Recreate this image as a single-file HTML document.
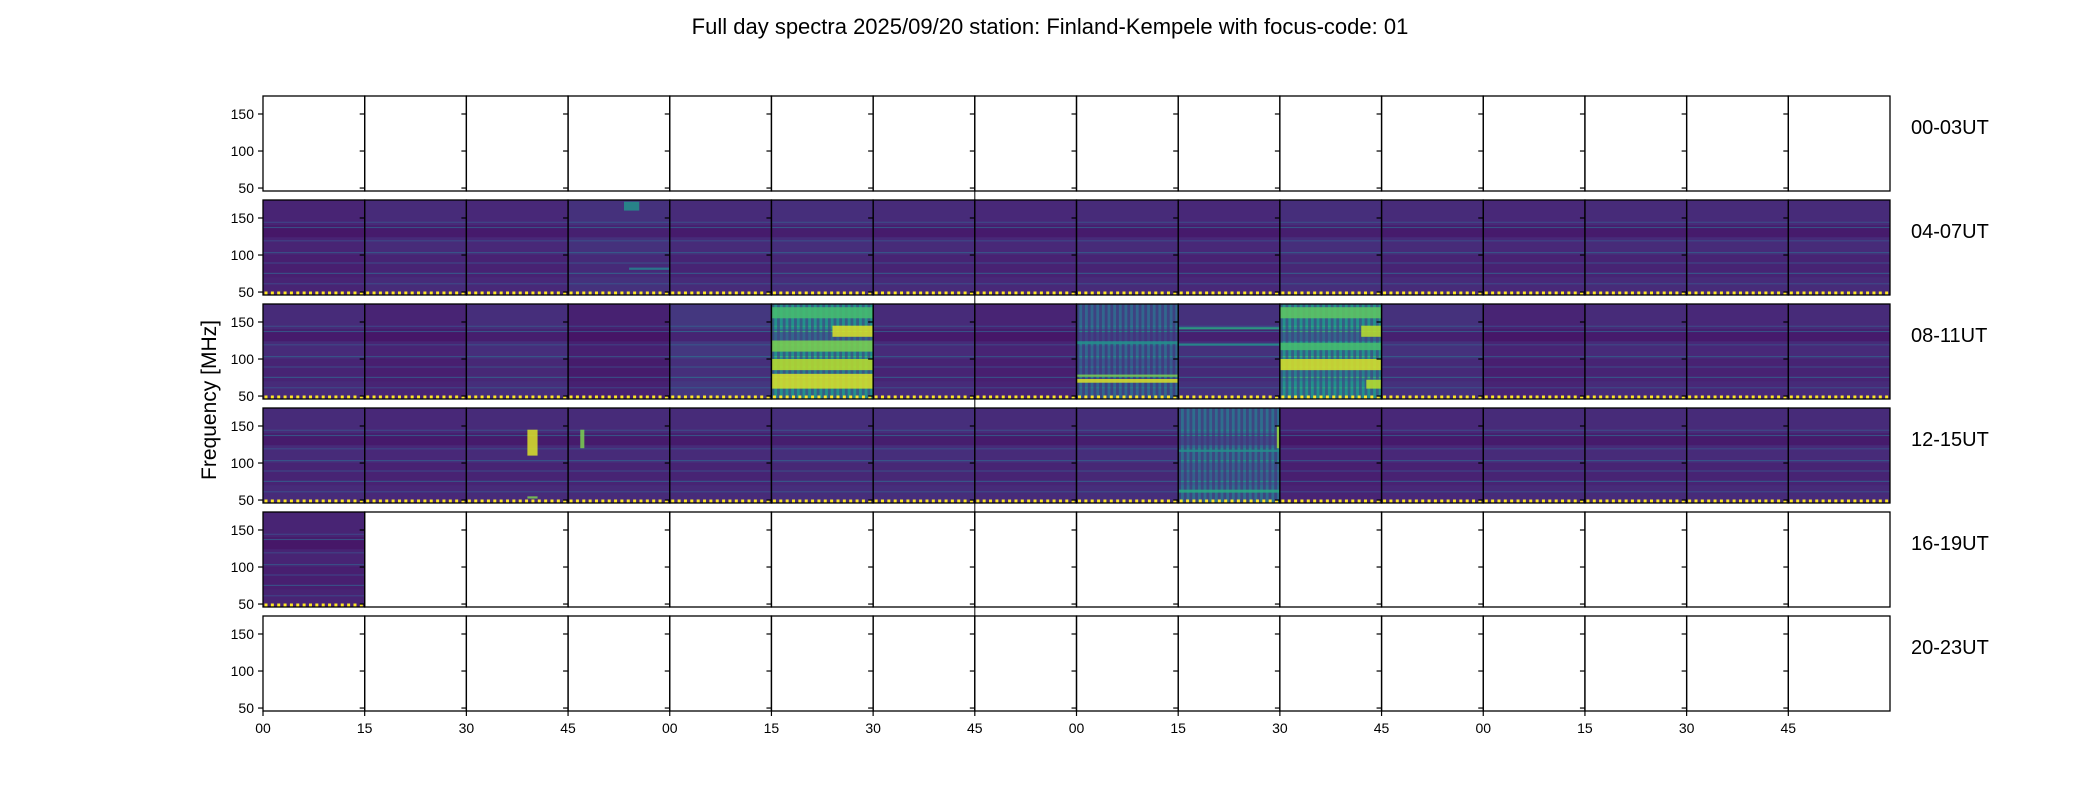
<!DOCTYPE html>
<html><head><meta charset="utf-8"><style>
html,body{margin:0;padding:0;background:#fff;}
svg{display:block;font-family:"Liberation Sans","DejaVu Sans",sans-serif;}
</style></head><body>
<svg id="chart" width="2100" height="800" viewBox="0 0 2100 800">
<text x="1050" y="34" font-size="22" text-anchor="middle" fill="#000">Full day spectra 2025/09/20 station: Finland-Kempele with focus-code: 01</text>
<text transform="translate(216,400) rotate(-90)" font-size="21" text-anchor="middle" fill="#000">Frequency [MHz]</text>
<g id="panels"></g>
</svg>
<script>
const rowLabels = ["00-03UT","04-07UT","08-11UT","12-15UT","16-19UT","20-23UT"];
const xTickLabels = ["00","15","30","45","00","15","30","45","00","15","30","45","00","15","30","45"];
const yTickValues = [50,100,150];
// mean viridis level of each panel (null = no data)
const row0 = [null,null,null,null,null,null,null,null,null,null,null,null,null,null,null,null];
const row1 = [0.1,0.12,0.11,0.14,0.12,0.13,0.12,0.11,0.12,0.11,0.13,0.12,0.11,0.12,0.12,0.12];
const row2 = [0.12,0.1,0.13,0.09,0.16,0.5,0.12,0.1,0.33,0.14,0.5,0.14,0.1,0.12,0.11,0.12];
const row3 = [0.12,0.11,0.12,0.12,0.12,0.13,0.13,0.12,0.13,0.36,0.1,0.11,0.12,0.12,0.12,0.12];
const row4 = [0.1,null,null,null,null,null,null,null,null,null,null,null,null,null,null,null];
const row5 = [null,null,null,null,null,null,null,null,null,null,null,null,null,null,null,null];
const levels = [row0,row1,row2,row3,row4,row5];
// bright features: [row, panel, fLow, fHigh, level, startFraction, endFraction]
const bands = [
 [2,5,60,80,0.95,0,1],[2,5,85,100,0.9,0,1],[2,5,110,125,0.8,0,1],[2,5,130,145,0.95,0.6,1],[2,5,155,170,0.7,0,1],
 [2,10,85,100,0.95,0,1],[2,10,60,72,0.9,0.85,1],[2,10,130,145,0.9,0.8,1],[2,10,155,170,0.75,0,1],[2,10,112,122,0.7,0,1],
 [2,8,68,73,0.95,0,1],[2,8,76,79,0.8,0,1],[2,8,120,124,0.5,0,1],
 [2,9,140,143,0.6,0,1],[2,9,118,121,0.5,0,1],
 [1,3,160,172,0.5,0.55,0.7],[1,3,80,83,0.45,0.6,1],
 [3,2,110,145,0.95,0.6,0.7],[3,2,52,55,0.8,0.6,0.7],[3,3,120,145,0.8,0.12,0.16],
 [3,9,60,64,0.6,0,1],[3,9,115,118,0.5,0,1],[3,9,120,150,0.85,0.97,1]
];
// recurring spectral lines (MHz) seen in data panels
const lines = [145,138,120,104,90,76,62];

const X0=263,X1=1890,NP=16,ROWTOP=96,ROWSTEP=104,PH=95;
const PW=(X1-X0)/NP;
const FMIN=46,FMAX=174.3;
function xPanel(i){return X0+i*PW;}
function yFreq(r,f){return ROWTOP+r*ROWSTEP+PH*(FMAX-f)/(FMAX-FMIN);}
const VIR=[[68,1,84],[72,40,120],[62,74,137],[49,104,142],[38,130,142],[31,158,137],[53,183,121],[109,205,89],[180,222,44],[253,231,37]];
function viridis(t){t=Math.max(0,Math.min(1,t));const s=t*(VIR.length-1),i=Math.min(VIR.length-2,Math.floor(s)),u=s-i;
 const c=VIR[i].map((v,k)=>Math.round(v+(VIR[i+1][k]-v)*u));return `rgb(${c[0]},${c[1]},${c[2]})`;}
const NS="http://www.w3.org/2000/svg";
const g=document.getElementById('panels');
function mk(tag,attrs,parent){const e=document.createElementNS(NS,tag);for(const k in attrs)e.setAttribute(k,attrs[k]);(parent||g).appendChild(e);return e;}

for(let r=0;r<6;r++){
 const top=ROWTOP+r*ROWSTEP;
 const rowG=mk('g',{});
 
 
 for(let p=0;p<NP;p++){
  const x=xPanel(p),lv=levels[r][p];
  const pg=mk('g',{},rowG);
  
  
  if(lv!==null){
   mk('rect',{x:x,y:top,width:PW,height:PH,fill:viridis(lv)},pg);
   mk('rect',{x:x,y:yFreq(r,140),width:PW,height:yFreq(r,124)-yFreq(r,140),fill:viridis(lv*0.5),opacity:0.7},pg);
   mk('rect',{x:x,y:yFreq(r,100),width:PW,height:yFreq(r,70)-yFreq(r,100),fill:viridis(lv*0.7),opacity:0.5},pg);
   lines.forEach((f,k)=>{mk('rect',{x:x,y:yFreq(r,f),width:PW,height:1.2,fill:viridis(lv+0.12+(k%2)*0.06),opacity:0.8},pg);});
   if(lv>0.3){
    for(let s=0;s<18;s++){mk('rect',{x:x+s*PW/18,y:top,width:PW/36,height:PH,fill:viridis(lv*0.35),opacity:0.6},pg);}
   }
   for(let d=0;d<16;d++){mk('rect',{x:x+1.5+d*PW/16,y:top+PH-3.5,width:3,height:3,fill:'#fde725'},pg);}
  }
 }
 bands.filter(b=>b[0]===r).forEach(b=>{
  const x=xPanel(b[1]);
  const br=mk('rect',{x:x+b[5]*PW,y:yFreq(r,b[3]),width:(b[6]-b[5])*PW,height:yFreq(r,b[2])-yFreq(r,b[3]),fill:viridis(b[4]),opacity:0.85},rowG);
  
  
 });
 for(let p=0;p<NP;p++){
  const x=xPanel(p);
  mk('rect',{x:x,y:top,width:PW,height:PH,fill:'none',stroke:'#000','stroke-width':1.3},rowG);
  yTickValues.forEach(v=>{mk('line',{x1:x-5,x2:x,y1:yFreq(r,v),y2:yFreq(r,v),stroke:'#000','stroke-width':1.2},rowG);});
 }
 yTickValues.forEach(v=>{
  const t=mk('text',{x:X0-9,y:yFreq(r,v)+5,'font-size':14,'text-anchor':'end',fill:'#000'},rowG);
  t.textContent=v;
  
  
 });
 const lab=mk('text',{x:1911,y:top+38,'font-size':20,fill:'#000'},rowG);
 lab.textContent=rowLabels[r];
 
 
}
mk('line',{x1:xPanel(7),x2:xPanel(7),y1:ROWTOP,y2:ROWTOP+5*ROWSTEP+PH,stroke:'#000','stroke-width':1});
const bottom=ROWTOP+5*ROWSTEP+PH;
xTickLabels.forEach((l,i)=>{
 const x=xPanel(i);
 mk('line',{x1:x,x2:x,y1:bottom,y2:bottom+5,stroke:'#000','stroke-width':1.2});
 const t=mk('text',{x:x,y:bottom+22,'font-size':14,'text-anchor':'middle',fill:'#000'});
 t.textContent=l;
 
 
});
</script>
</body></html>
